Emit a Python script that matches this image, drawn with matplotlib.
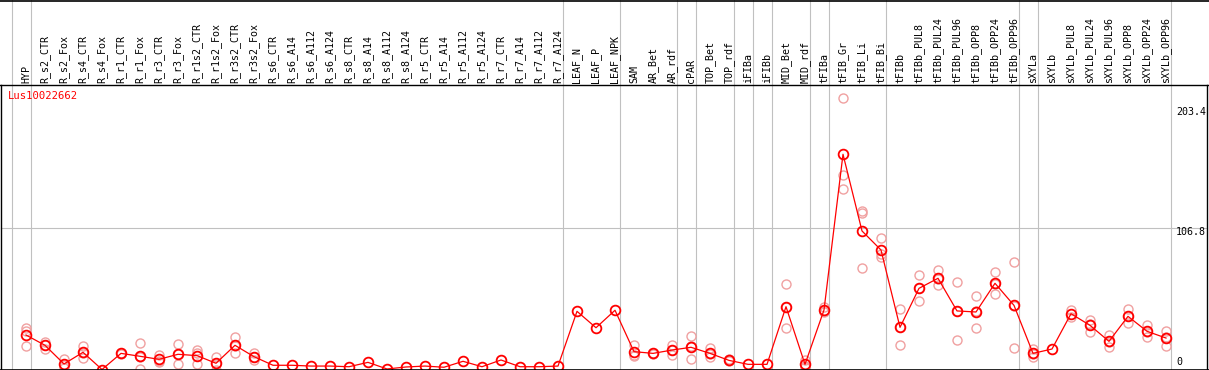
import matplotlib
matplotlib.use("Agg")
import matplotlib.pyplot as plt

# ---------------- data ----------------
gene_id = "Lus10022662"

samples = ["HYP", "R_s2_CTR", "R_s2_Fox", "R_s4_CTR", "R_s4_Fox", "R_r1_CTR", "R_r1_Fox",
           "R_r3_CTR", "R_r3_Fox", "R_r1s2_CTR", "R_r1s2_Fox", "R_r3s2_CTR", "R_r3s2_Fox",
           "R_s6_CTR", "R_s6_A14", "R_s6_A112", "R_s6_A124", "R_s8_CTR", "R_s8_A14",
           "R_s8_A112", "R_s8_A124", "R_r5_CTR", "R_r5_A14", "R_r5_A112", "R_r5_A124",
           "R_r7_CTR", "R_r7_A14", "R_r7_A112", "R_r7_A124", "LEAF_N", "LEAF_P", "LEAF_NPK",
           "SAM", "AR_Bet", "AR_rdf", "cPAR", "TOP_Bet", "TOP_rdf", "iFIBa", "iFIBb",
           "MID_Bet", "MID_rdf", "tFIBa", "tFIB_Gr", "tFIB_Li", "tFIB_Bi", "tFIBb",
           "tFIBb_PUL8", "tFIBb_PUL24", "tFIBb_PUL96", "tFIBb_OPP8", "tFIBb_OPP24",
           "tFIBb_OPP96", "sXYLa", "sXYLb", "sXYLb_PUL8", "sXYLb_PUL24", "sXYLb_PUL96",
           "sXYLb_OPP8", "sXYLb_OPP24", "sXYLb_OPP96"]

mean_values = [26.1, 18.3, 4.2, 13.0, 0.0, 12.2, 10.0, 7.7, 11.5, 10.5, 4.7, 18.3, 9.7,
               3.2, 3.2, 2.6, 2.6, 2.1, 5.4, 0.4, 1.9, 2.6, 1.7, 6.2, 2.1, 7.2, 2.1, 2.1, 2.6,
               44.0, 31.6, 44.8, 13.5, 12.2, 14.7, 16.8, 12.2, 6.9, 3.9, 3.9, 47.5, 3.9,
               45.0, 162.8, 104.8, 90.4, 31.9, 61.4, 69.0, 44.3, 43.5, 65.2, 48.5,
               12.2, 15.5, 42.2, 33.4, 21.3, 40.2, 28.9, 23.8]

replicates = [
    [31.2, 29.1, 17.8], [20.8, 15.7, 18.4], [8.2, 0.9, 3.5], [17.8, 8.5, 12.7], [],
    [12.6, 11.8], [19.8, 0.4, 9.8], [11.0, 5.9, 6.2], [19.0, 3.9, 11.6], [14.7, 4.2, 12.6],
    [9.7, 0.0, 4.4], [24.6, 12.2, 18.1], [12.2, 7.2, 9.7],
    [], [], [], [], [], [], [], [], [], [], [], [], [], [], [], [],
    [], [], [],
    [18.5, 11.0, 10.0], [12.6, 11.8], [18.5, 11.0, 14.6], [25.3, 7.7, 17.4],
    [16.0, 9.2, 11.4], [7.7, 6.1], [], [], [64.4, 31.2, 47.0], [7.2, 2.0, 2.5],
    [47.5, 44.0, 43.5], [205.0, 147.0, 136.5], [118.1, 76.5, 119.8], [99.2, 85.0, 87.0],
    [45.5, 18.3, 31.9], [71.3, 51.6, 61.3], [75.0, 63.7, 68.3], [66.2, 22.3, 44.4],
    [55.4, 31.2, 43.9], [73.8, 57.1, 64.7], [81.3, 16.0, 48.2],
    [15.3, 9.7, 11.6], [], [45.0, 39.4], [37.4, 28.6, 34.2], [26.1, 17.3, 20.5],
    [45.5, 34.9, 40.2], [33.4, 24.8, 28.5], [29.1, 18.0, 24.3],
]

# group separators: after these sample indices
group_ends = [-1, 0, 28, 31, 34, 35, 37, 38, 39, 41, 42, 45, 52, 53, 60]

y_ticks = [203.4, 106.8, 0]
y_tick_labels = ["203.4", "106.8", "0"]

# ---------------- layout ----------------
W, H = 1209, 370
X0, DX = 26.0, 19.0          # pixel x of first column, column spacing
Y0, SY = 369.5, 1.322        # pixel y of value 0, pixels per unit

def px_x(p):
    return (p - X0) / DX

def px_y(p):
    return (Y0 - p) / SY

plt.rcParams['font.family'] = ['DejaVu Sans Mono', 'DejaVu Sans']
fig = plt.figure(figsize=(W / 100, H / 100), dpi=100)
ax = fig.add_axes([0, 0, 1, 1])
ax.set_xlim(px_x(0), px_x(W))
ax.set_ylim(px_y(H), px_y(0))
ax.axis('off')

grey = '#c0c0c0'
lw1 = 0.8

# vertical group lines (full height)
for k in group_ends:
    ax.axvline(k + 0.25, color=grey, lw=lw1, zorder=1)

# horizontal gridline at 106.8
ax.plot([px_x(1), px_x(1207)], [106.8, 106.8], color=grey, lw=lw1, zorder=1)

# frame lines
sep = px_y(85)
ax.axhline(sep, color='black', lw=1.0, zorder=5)
ax.axhline(px_y(0.5), color='black', lw=1.2, zorder=5)
ax.plot([px_x(1), px_x(1)], [px_y(369.5), sep], color='black', lw=1.0, zorder=5)
ax.plot([px_x(1207), px_x(1207)], [px_y(369.5), sep], color='black', lw=1.0, zorder=5)
ax.axhline(px_y(369.5), color='black', lw=1.2, zorder=5)

# header labels
for i, name in enumerate(samples):
    ax.text(i, px_y(83), name, rotation=90, ha='center', va='bottom',
            fontsize=7.2, color='black')

# gene id
ax.text(px_x(8), px_y(91), gene_id, ha='left', va='top', fontsize=7.6, color='#ff0000')

# right-side value labels
label_px = [112, 232, 362]
for v, lab, p in zip(y_ticks, y_tick_labels, label_px):
    ax.text(px_x(1176), px_y(p), lab, ha='left', va='center', fontsize=7.2, color='black',
            zorder=6)

# replicate points
rx, ry = [], []
for i, reps in enumerate(replicates):
    for r in reps:
        rx.append(i)
        ry.append(r)
ax.plot(rx, ry, linestyle='none', marker='o', ms=6.5, mfc='none', mec='#f0a0a0',
        mew=1.0, zorder=3)

# mean line
ax.plot(range(len(samples)), mean_values, color='#ff0000', lw=0.9, marker='o', ms=7,
        mfc='none', mec='#ff0000', mew=1.3, zorder=4)

fig.savefig('out.png', dpi=100)
